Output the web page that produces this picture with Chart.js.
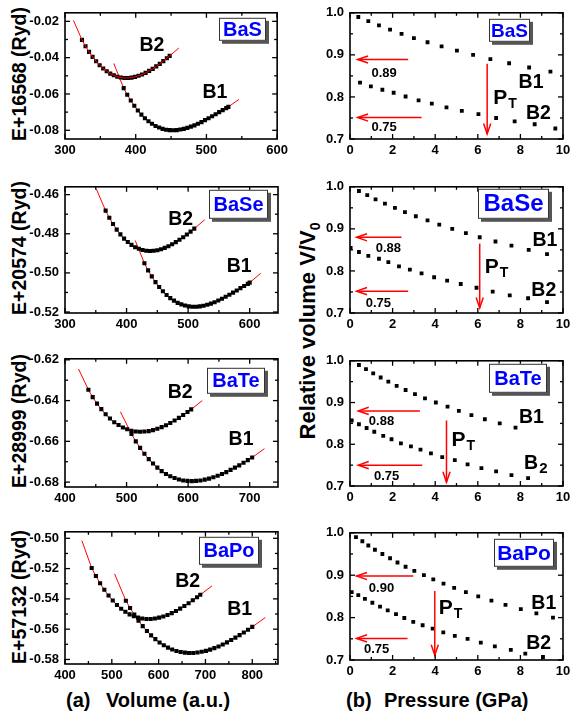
<!DOCTYPE html>
<html>
<head>
<meta charset="utf-8">
<script src="https://cdn.jsdelivr.net/npm/chart.js@4.4.0/dist/chart.umd.min.js"></script>
<style>
  body { margin: 0; width: 570px; height: 718px; background: #fff; position: relative; overflow: hidden;
         font-family: "Liberation Sans", Arial, sans-serif; }
  canvas { position: absolute; }
  .vtitle { position: absolute; transform: translate(-50%, -50%) rotate(-90deg); font-weight: bold;
            white-space: nowrap; color: #000; }
  .btitle { position: absolute; font-weight: bold; font-size: 20px; line-height: 20px; white-space: nowrap; }
</style>
</head>
<body>

<div class="vtitle" style="left:19px;top:74px;font-size:19.5px">E+16568 (Ryd)</div>
<div class="vtitle" style="left:19px;top:248px;font-size:19.5px">E+20574 (Ryd)</div>
<div class="vtitle" style="left:19px;top:421px;font-size:19.5px">E+28999 (Ryd)</div>
<div class="vtitle" style="left:19px;top:597px;font-size:19.5px">E+57132 (Ryd)</div>
<div class="vtitle" style="left:309px;top:331px;font-size:22px">Relative volume V/V<sub style="font-size:14px">0</sub></div>
<div class="btitle" style="left:66px;top:690px">(a)</div>
<div class="btitle" style="left:106px;top:690px">Volume (a.u.)</div>
<div class="btitle" style="left:346px;top:690px">(b)</div>
<div class="btitle" style="left:384px;top:690px">Pressure (GPa)</div>

<script>
// ---- E(V) curves, panel (a) ----
// BaS
const basB1V = [383,388,393,398,403,408,413,418,423,428,433,438,443,448,453,458,463,468,473,478,483,488,493,498,503,508,513,518,523,528,531];
const basB1E = [-0.0568,-0.0604,-0.0636,-0.0665,-0.0691,-0.0714,-0.0734,-0.0750,-0.0764,-0.0776,-0.0785,-0.0792,-0.0797,-0.0799,-0.0800,-0.0799,-0.0796,-0.0792,-0.0787,-0.0780,-0.0773,-0.0764,-0.0755,-0.0744,-0.0734,-0.0723,-0.0712,-0.0700,-0.0689,-0.0678,-0.0671];
const basB1ExtV = [369, 546];
const basB1ExtE = [-0.0432, -0.0630];
const basB2V = [324,329,334,339,344,349,354,359,364,369,374,379,384,389,394,399,404,409,414,419,424,429,434,439,444,448];
const basB2E = [-0.0302,-0.0337,-0.0368,-0.0396,-0.0420,-0.0442,-0.0460,-0.0475,-0.0488,-0.0497,-0.0505,-0.0509,-0.0512,-0.0512,-0.0510,-0.0506,-0.0500,-0.0493,-0.0484,-0.0473,-0.0462,-0.0448,-0.0434,-0.0419,-0.0403,-0.0390];
const basB2ExtV = [312, 461];
const basB2ExtE = [-0.0195, -0.0347];

// BaSe
const baseB1V = [429,435,441,447,453,459,465,471,477,483,489,495,501,507,513,519,525,531,537,543,549,555,561,567,573,579,585,591,597,600];
const baseB1E = [-0.4951,-0.4987,-0.5018,-0.5047,-0.5072,-0.5094,-0.5113,-0.5129,-0.5142,-0.5153,-0.5161,-0.5167,-0.5171,-0.5173,-0.5173,-0.5171,-0.5168,-0.5163,-0.5157,-0.5150,-0.5141,-0.5132,-0.5122,-0.5112,-0.5101,-0.5090,-0.5078,-0.5067,-0.5056,-0.5050];
const baseB1ExtV = [414, 618];
const baseB1ExtE = [-0.4834, -0.5002];
const baseB2V = [366,372,378,384,390,396,402,408,414,420,426,432,438,444,450,456,462,468,474,480,486,492,498,504,510];
const baseB2E = [-0.4682,-0.4718,-0.4750,-0.4779,-0.4803,-0.4825,-0.4842,-0.4857,-0.4869,-0.4877,-0.4883,-0.4887,-0.4888,-0.4887,-0.4884,-0.4879,-0.4872,-0.4864,-0.4854,-0.4843,-0.4831,-0.4818,-0.4804,-0.4789,-0.4774];
const baseB2ExtV = [351, 527];
const baseB2ExtE = [-0.4572, -0.4728];

// BaTe
const bateB1V = [508,515,522,529,536,543,550,557,564,571,578,585,592,599,606,613,620,627,634,641,648,655,662,669,676,683,690,697,704];
const bateB1E = [-0.6564,-0.6600,-0.6632,-0.6661,-0.6687,-0.6709,-0.6729,-0.6746,-0.6760,-0.6771,-0.6780,-0.6787,-0.6792,-0.6794,-0.6795,-0.6794,-0.6792,-0.6788,-0.6783,-0.6776,-0.6769,-0.6760,-0.6751,-0.6740,-0.6729,-0.6718,-0.6705,-0.6692,-0.6679];
const bateB1ExtV = [490, 724];
const bateB1ExtE = [-0.6455, -0.6636];
const bateB2V = [438,445,452,459,466,473,480,487,494,501,508,515,522,529,536,543,550,557,564,571,578,585,592,599,605];
const bateB2E = [-0.6347,-0.6383,-0.6415,-0.6442,-0.6467,-0.6488,-0.6506,-0.6520,-0.6532,-0.6541,-0.6548,-0.6552,-0.6553,-0.6552,-0.6550,-0.6545,-0.6538,-0.6530,-0.6521,-0.6510,-0.6498,-0.6485,-0.6471,-0.6456,-0.6443];
const bateB2ExtV = [422, 623];
const bateB2ExtE = [-0.6245, -0.6400];

// BaPo
const bapoB1V = [530,539,548,557,566,575,584,593,602,611,620,629,638,647,656,665,674,683,692,701,710,719,728,737,746,755,764,773,782,791,800];
const bapoB1E = [-0.5412,-0.5460,-0.5504,-0.5544,-0.5580,-0.5612,-0.5641,-0.5666,-0.5688,-0.5706,-0.5722,-0.5734,-0.5744,-0.5751,-0.5755,-0.5757,-0.5757,-0.5754,-0.5749,-0.5743,-0.5735,-0.5725,-0.5714,-0.5701,-0.5687,-0.5672,-0.5656,-0.5639,-0.5622,-0.5604,-0.5585];
const bapoB1ExtV = [506, 828];
const bapoB1ExtE = [-0.5235, -0.5523];
const bapoB2V = [457,466,475,484,493,502,511,520,529,538,547,556,565,574,583,592,601,610,619,628,637,646,655,664,673,682,689];
const bapoB2E = [-0.5196,-0.5249,-0.5297,-0.5340,-0.5378,-0.5411,-0.5440,-0.5465,-0.5485,-0.5502,-0.5515,-0.5524,-0.5530,-0.5533,-0.5533,-0.5530,-0.5524,-0.5516,-0.5506,-0.5494,-0.5480,-0.5464,-0.5447,-0.5429,-0.5409,-0.5389,-0.5373];
const bapoB2ExtV = [436, 714];
const bapoB2ExtE = [-0.5015, -0.5314];

// ---- V/V0 vs pressure, panel (b) ----
const basB1P = [0.39,0.86,1.36,1.88,2.42,3.00,3.64,4.30,5.02,5.78,6.59,7.47,8.41,9.41];
const basB1R = [0.99,0.98,0.97,0.96,0.95,0.94,0.93,0.92,0.91,0.90,0.89,0.88,0.87,0.86];
const basB2P = [0.47,0.98,1.52,2.05,2.61,3.22,3.84,4.53,5.25,6.03,6.86,7.73,8.67,9.64];
const basB2R = [0.834,0.825,0.817,0.810,0.801,0.792,0.784,0.775,0.767,0.759,0.750,0.742,0.735,0.725];

const baseB1P = [0.42,0.81,1.20,1.64,2.11,2.58,3.09,3.64,4.19,4.80,5.44,6.09,6.83,7.58,8.39,9.25];
const baseB1R = [0.99,0.98,0.97,0.96,0.95,0.94,0.93,0.92,0.91,0.90,0.89,0.88,0.87,0.86,0.85,0.84];
const baseB2P = [0.03,0.42,0.86,1.36,1.80,2.30,2.81,3.36,3.95,4.56,5.20,5.94,6.70,7.50,8.36,9.25];
const baseB2R = [0.855,0.845,0.836,0.829,0.821,0.811,0.803,0.794,0.785,0.777,0.769,0.760,0.751,0.742,0.735,0.726];

const bateB1P = [0.42,0.75,1.09,1.44,1.80,2.19,2.61,3.05,3.52,4.03,4.58,5.11,5.70,6.33,7.03,7.77];
const bateB1R = [0.99,0.98,0.97,0.96,0.95,0.94,0.93,0.92,0.91,0.90,0.89,0.88,0.87,0.86,0.85,0.84];
const bateB2P = [0.08,0.42,0.78,1.14,1.56,1.95,2.39,2.86,3.31,3.80,4.33,4.92,5.52,6.17,6.86,7.58,8.36];
const bateB2R = [0.857,0.848,0.839,0.830,0.820,0.812,0.802,0.795,0.787,0.778,0.769,0.762,0.752,0.743,0.735,0.726,0.719];

const bapoB1P = [0.28,0.58,0.86,1.17,1.52,1.88,2.23,2.61,3.02,3.47,3.91,4.39,4.89,5.44,6.02,6.64,7.30,8.02,8.75,9.53];
const bapoB1R = [0.99,0.98,0.97,0.96,0.95,0.94,0.93,0.92,0.91,0.90,0.89,0.88,0.87,0.86,0.85,0.84,0.83,0.82,0.81,0.80];
const bapoB2P = [0.08,0.39,0.70,1.05,1.41,1.77,2.16,2.55,2.97,3.41,3.88,4.38,4.92,5.52,6.14,6.80,7.55,8.23,9.06];
const bapoB2R = [0.860,0.853,0.844,0.835,0.826,0.817,0.808,0.799,0.790,0.782,0.774,0.765,0.757,0.750,0.741,0.732,0.724,0.715,0.707];

// tick labels
const volTicksBaS = [300, 400, 500, 600];
const volTicksBaSe = [300, 400, 500, 600];
const volTicksBaTe = [400, 500, 600, 700];
const volTicksBaPo = [400, 500, 600, 700, 800];
const eTicksBaS = [-0.08, -0.06, -0.04, -0.02];
const eTicksBaSe = [-0.52, -0.50, -0.48, -0.46];
const eTicksBaTe = [-0.68, -0.66, -0.64, -0.62];
const eTicksBaPo = [-0.58, -0.56, -0.54, -0.52, -0.50];
const pTicks = [0, 2, 4, 6, 8, 10];
const rTicks = [0.7, 0.8, 0.9, 1.0];

const FONT = '"Liberation Sans", Arial, sans-serif';
Chart.defaults.font.family = FONT;
Chart.defaults.font.weight = 'bold';
Chart.defaults.color = '#000';
Chart.defaults.animation = false;

const W_Y = 62, H_X = 24, PAD_T = 10, PAD_R = 14;

const pts = (xs, ys) => xs.map((x, i) => ({ x: x, y: ys[i] }));
const midpoints = (t) => {
  const out = [];
  for (let i = 0; i < t.length - 1; i++) out.push((t[i] + t[i + 1]) / 2);
  out.push(t[t.length - 1] + (t[1] - t[0]) / 2);
  out.unshift(t[0] - (t[1] - t[0]) / 2);
  return out;
};

function drawArrow(ctx, x1, y1, x2, y2) {
  ctx.beginPath(); ctx.moveTo(x1, y1); ctx.lineTo(x2, y2); ctx.stroke();
  const a = Math.atan2(y2 - y1, x2 - x1), L = 11, w = 0.33;
  ctx.beginPath();
  ctx.moveTo(x2 - L * Math.cos(a - w), y2 - L * Math.sin(a - w));
  ctx.lineTo(x2, y2);
  ctx.lineTo(x2 - L * Math.cos(a + w), y2 - L * Math.sin(a + w));
  ctx.stroke();
}

// frame with inward ticks, arrows, labels and name box
const decoPlugin = {
  id: 'deco',
  afterDatasetsDraw(chart, args, o) {
    const ctx = chart.ctx;
    const { left, right, top, bottom } = chart.chartArea;
    const xs = chart.scales.x, ys = chart.scales.y;
    ctx.save();

    // red arrows
    ctx.strokeStyle = '#ff0000';
    ctx.lineWidth = 1.5;
    (o.arrows || []).forEach(a => {
      drawArrow(ctx, xs.getPixelForValue(a[0]), ys.getPixelForValue(a[1]),
                     xs.getPixelForValue(a[2]), ys.getPixelForValue(a[3]));
    });

    // frame + ticks
    ctx.strokeStyle = '#000';
    ctx.lineWidth = 1.6;
    ctx.strokeRect(left, top, right - left, bottom - top);
    const seg = (x1, y1, x2, y2) => { ctx.beginPath(); ctx.moveTo(x1, y1); ctx.lineTo(x2, y2); ctx.stroke(); };
    const tickX = (vals, len) => vals.forEach(v => {
      if (v < xs.min || v > xs.max) return;
      const p = xs.getPixelForValue(v);
      seg(p, bottom, p, bottom - len); seg(p, top, p, top + len);
    });
    const tickY = (vals, len) => vals.forEach(v => {
      if (v < ys.min || v > ys.max) return;
      const p = ys.getPixelForValue(v);
      seg(left, p, left + len, p); seg(right, p, right - len, p);
    });
    ctx.lineWidth = 1.3;
    tickX(o.xMajor, 5); tickY(o.yMajor, 5);
    tickX(midpoints(o.xMajor), 3); tickY(midpoints(o.yMajor), 3);

    // text labels
    ctx.fillStyle = '#000';
    ctx.textBaseline = 'middle';
    (o.texts || []).forEach(t => {
      const px = xs.getPixelForValue(t.x), py = ys.getPixelForValue(t.y);
      ctx.font = `bold ${t.size}px ${FONT}`;
      ctx.textAlign = t.align || 'center';
      if (t.sub) {
        const w = ctx.measureText(t.t).width;
        ctx.font = `bold ${t.subSize}px ${FONT}`;
        const subW = ctx.measureText(t.sub).width;
        ctx.textAlign = 'left';
        const x0 = t.align === 'left' ? px : px - (w + subW) / 2;
        ctx.font = `bold ${t.size}px ${FONT}`;
        ctx.fillText(t.t, x0, py);
        ctx.font = `bold ${t.subSize}px ${FONT}`;
        ctx.fillText(t.sub, x0 + w + 1, py + t.size * 0.3);
      } else {
        ctx.fillText(t.t, px, py);
      }
    });

    // compound name box
    if (o.box) {
      const b = o.box, bx = left + b.x, by = top + b.y;
      ctx.fillStyle = '#555';
      ctx.fillRect(bx + 3, by + 3, b.w, b.h);
      ctx.fillStyle = '#fff';
      ctx.fillRect(bx, by, b.w, b.h);
      ctx.strokeStyle = '#333';
      ctx.lineWidth = 1;
      ctx.strokeRect(bx + 0.5, by + 0.5, b.w - 1, b.h - 1);
      ctx.fillStyle = '#0000ff';
      ctx.font = `bold ${b.size}px ${FONT}`;
      ctx.textAlign = 'center';
      ctx.fillText(b.t, bx + b.w / 2, by + b.h / 2 + 1);
    }
    ctx.restore();
  }
};

function makePanel(area, xr, yr, xTicks, yTicks, xFmt, yFmt, datasets, deco) {
  const cv = document.createElement('canvas');
  cv.width = area.w + W_Y + PAD_R;
  cv.height = area.h + PAD_T + H_X;
  cv.style.left = (area.x - W_Y) + 'px';
  cv.style.top = (area.y - PAD_T) + 'px';
  document.body.appendChild(cv);
  deco.xMajor = xTicks;
  deco.yMajor = yTicks;
  return new Chart(cv, {
    type: 'scatter',
    data: { datasets: datasets },
    options: {
      responsive: false,
      layout: { padding: { left: 0, top: PAD_T, right: PAD_R, bottom: 0 } },
      plugins: { legend: { display: false }, tooltip: { enabled: false }, deco: deco },
      scales: {
        x: {
          type: 'linear', min: xr[0], max: xr[1],
          grid: { display: false, drawTicks: false }, border: { display: false },
          afterBuildTicks: s => { s.ticks = xTicks.map(v => ({ value: v })); },
          afterFit: s => { s.height = H_X; },
          ticks: { padding: 4, autoSkip: false, maxRotation: 0, font: { size: 13, weight: 'bold' }, color: '#000', callback: xFmt }
        },
        y: {
          type: 'linear', min: yr[0], max: yr[1],
          grid: { display: false, drawTicks: false }, border: { display: false },
          afterBuildTicks: s => { s.ticks = yTicks.map(v => ({ value: v })); },
          afterFit: s => { s.width = W_Y; },
          ticks: { padding: 6, autoSkip: false, font: { size: 13, weight: 'bold' }, color: '#000', callback: yFmt }
        }
      }
    },
    plugins: [decoPlugin]
  });
}

function evSets(b1V, b1E, b1xV, b1xE, b2V, b2E, b2xV, b2xE, redOnTopB2) {
  const marker = (v, e) => ({
    data: pts(v, e), showLine: false, pointStyle: 'rect', pointRadius: 2.9,
    backgroundColor: '#000', borderColor: '#000', borderWidth: 0, order: 2
  });
  const fit = (v, e, xv, xe, ord) => ({
    data: [{ x: xv[0], y: xe[0] }].concat(pts(v, e), [{ x: xv[1], y: xe[1] }]),
    showLine: true, pointRadius: 0, borderColor: '#ff0000', borderWidth: 1, order: ord
  });
  return [
    marker(b1V, b1E), fit(b1V, b1E, b1xV, b1xE, 3),
    marker(b2V, b2E), fit(b2V, b2E, b2xV, b2xE, redOnTopB2 ? 1 : 3)
  ];
}

function pvSets(b1P, b1R, b2P, b2R) {
  const m = (p, r) => ({
    data: pts(p, r), showLine: false, pointStyle: 'rect', pointRadius: 2.7,
    backgroundColor: '#000', borderColor: '#000', borderWidth: 0
  });
  return [m(b1P, b1R), m(b2P, b2R)];
}

const volFmt = v => String(v);
const eFmt = v => v.toFixed(2);
const pFmt = v => String(v);
const rFmt = v => v.toFixed(1);
const LBL = 19.5, NUM = 13;

// ---- left column ----
makePanel({ x: 65, y: 9, w: 213, h: 130 }, [300, 600], [-0.0848, -0.0153], volTicksBaS, eTicksBaS, volFmt, eFmt,
  evSets(basB1V, basB1E, basB1ExtV, basB1ExtE, basB2V, basB2E, basB2ExtV, basB2ExtE, true),
  { texts: [{ x: 423, y: -0.0335, t: 'B2', size: LBL }, { x: 512, y: -0.0592, t: 'B1', size: LBL }],
    box: { t: 'BaS', x: 154, y: 5, w: 47, h: 23, size: 20 } });

makePanel({ x: 65, y: 183, w: 213, h: 130 }, [300, 646], [-0.5205, -0.4560], volTicksBaSe, eTicksBaSe, volFmt, eFmt,
  evSets(baseB1V, baseB1E, baseB1ExtV, baseB1ExtE, baseB2V, baseB2E, baseB2ExtV, baseB2ExtE, false),
  { texts: [{ x: 488, y: -0.4727, t: 'B2', size: LBL }, { x: 583, y: -0.4970, t: 'B1', size: LBL }],
    box: { t: 'BaSe', x: 144, y: 3, w: 59, h: 29, size: 20 } });

makePanel({ x: 65, y: 355, w: 213, h: 132 }, [400, 746], [-0.6824, -0.6195], volTicksBaTe, eTicksBaTe, volFmt, eFmt,
  evSets(bateB1V, bateB1E, bateB1ExtV, bateB1ExtE, bateB2V, bateB2E, bateB2ExtV, bateB2ExtE, false),
  { texts: [{ x: 587, y: -0.6362, t: 'B2', size: LBL }, { x: 686, y: -0.6593, t: 'B1', size: LBL }],
    box: { t: 'BaTe', x: 142, y: 9, w: 58, h: 26, size: 20 } });

makePanel({ x: 65, y: 528, w: 213, h: 136 }, [400, 855], [-0.5830, -0.4957], volTicksBaPo, eTicksBaPo, volFmt, eFmt,
  evSets(bapoB1V, bapoB1E, bapoB1ExtV, bapoB1ExtE, bapoB2V, bapoB2E, bapoB2ExtV, bapoB2ExtE, false),
  { texts: [{ x: 662, y: -0.5284, t: 'B2', size: LBL }, { x: 773, y: -0.5469, t: 'B1', size: LBL }],
    box: { t: 'BaPo', x: 134, y: 5, w: 60, h: 28, size: 20 } });

// ---- right column ----
makePanel({ x: 350, y: 9, w: 213, h: 130 }, [0, 10], [0.7, 1.0], pTicks, rTicks, pFmt, rFmt,
  pvSets(basB1P, basB1R, basB2P, basB2R),
  { arrows: [[2.73, 0.889, 0.36, 0.889], [3.36, 0.751, 0.36, 0.751], [6.44, 0.879, 6.44, 0.712]],
    texts: [{ x: 1.6, y: 0.857, t: '0.89', size: NUM }, { x: 1.6, y: 0.727, t: '0.75', size: NUM },
            { x: 6.72, y: 0.798, t: 'P', sub: 'T', size: 21, subSize: 14, align: 'left' },
            { x: 8.5, y: 0.833, t: 'B1', size: LBL }, { x: 8.85, y: 0.761, t: 'B2', size: LBL }],
    box: { t: 'BaS', x: 139, y: 6, w: 41, h: 23, size: 19 } });

makePanel({ x: 350, y: 183, w: 213, h: 130 }, [0, 10], [0.7, 1.0], pTicks, rTicks, pFmt, rFmt,
  pvSets(baseB1P, baseB1R, baseB2P, baseB2R),
  { arrows: [[2.42, 0.88, 0.31, 0.88], [2.73, 0.752, 0.31, 0.752], [6.09, 0.865, 6.09, 0.712]],
    texts: [{ x: 1.8, y: 0.854, t: '0.88', size: NUM }, { x: 1.33, y: 0.723, t: '0.75', size: NUM },
            { x: 6.33, y: 0.81, t: 'P', sub: 'T', size: 21, subSize: 14, align: 'left' },
            { x: 9.15, y: 0.873, t: 'B1', size: LBL }, { x: 9.1, y: 0.754, t: 'B2', size: LBL }],
    box: { t: 'BaSe', x: 128, y: 2, w: 71, h: 30, size: 24 } });

makePanel({ x: 350, y: 357, w: 213, h: 129 }, [0, 10], [0.7, 1.0], pTicks, rTicks, pFmt, rFmt,
  pvSets(bateB1P, bateB1R, bateB2P, bateB2R),
  { arrows: [[3.28, 0.88, 0.39, 0.88], [3.39, 0.75, 0.39, 0.75], [4.53, 0.857, 4.53, 0.709]],
    texts: [{ x: 1.48, y: 0.854, t: '0.88', size: NUM }, { x: 1.72, y: 0.723, t: '0.75', size: NUM },
            { x: 4.77, y: 0.81, t: 'P', sub: 'T', size: 21, subSize: 14, align: 'left' },
            { x: 8.52, y: 0.864, t: 'B1', size: LBL }, { x: 8.7, y: 0.754, t: 'B', sub: '2', size: LBL, subSize: 15 }],
    box: { t: 'BaTe', x: 139, y: 3, w: 58, h: 29, size: 20 } });

makePanel({ x: 350, y: 529, w: 213, h: 131 }, [0, 10], [0.7, 1.0], pTicks, rTicks, pFmt, rFmt,
  pvSets(bapoB1P, bapoB1R, bapoB2P, bapoB2R),
  { arrows: [[2.97, 0.898, 0.31, 0.898], [2.7, 0.751, 0.31, 0.751], [3.98, 0.863, 3.98, 0.7115]],
    texts: [{ x: 1.48, y: 0.868, t: '0.90', size: NUM }, { x: 1.25, y: 0.724, t: '0.75', size: NUM },
            { x: 4.17, y: 0.822, t: 'P', sub: 'T', size: 21, subSize: 14, align: 'left' },
            { x: 9.1, y: 0.834, t: 'B1', size: LBL }, { x: 8.86, y: 0.738, t: 'B2', size: LBL }],
    box: { t: 'BaPo', x: 144, y: 6, w: 60, h: 28, size: 21 } });
</script>
</body>
</html>
